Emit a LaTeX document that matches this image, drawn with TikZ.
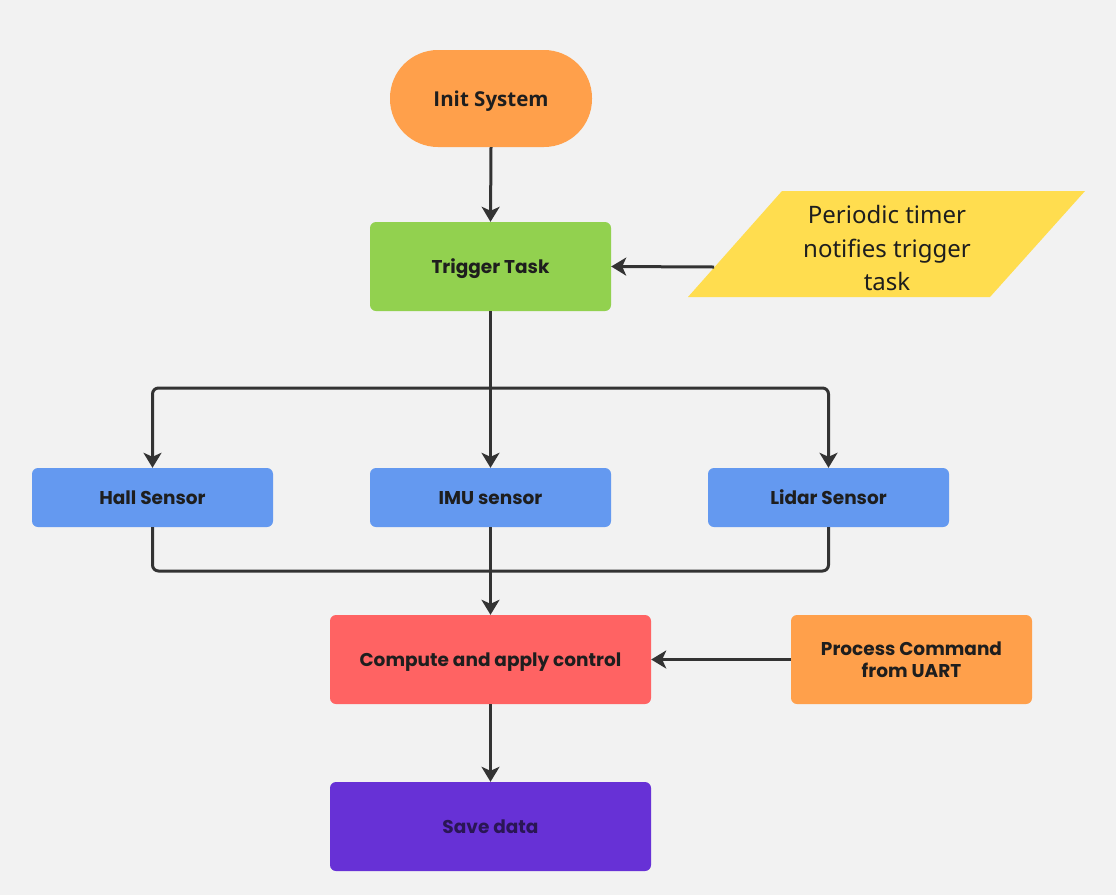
\documentclass[tikz,border=0pt]{standalone}
\usepackage{fontspec}
\setmainfont{Poppins}
\newfontfamily\notosans{Noto Sans}
\newfontfamily\opensans{Open Sans}
\usetikzlibrary{arrows.meta,calc}

\definecolor{bgcol}{HTML}{F2F2F2}
\definecolor{initcol}{HTML}{FFA04B}
\definecolor{trigcol}{HTML}{92D14F}
\definecolor{timercol}{HTML}{FFDD4F}
\definecolor{sensorcol}{HTML}{6499F0}
\definecolor{ctrlcol}{HTML}{FF6363}
\definecolor{uartcol}{HTML}{FFA04B}
\definecolor{savecol}{HTML}{6731D6}
\definecolor{linecol}{HTML}{333333}
\definecolor{txtcol}{HTML}{1E1E1E}
\definecolor{savetxt}{HTML}{2A1655}

\tikzset{
  box/.style={rectangle, rounded corners=6pt, inner sep=0pt, align=center,
    text depth=0pt, text=txtcol, font=\fontsize{18.5}{22}\selectfont\bfseries},
  wide/.style={box, minimum width=321pt, minimum height=89pt},
  medium/.style={box, minimum width=241pt, minimum height=89pt},
  flat/.style={box, minimum width=241pt, minimum height=59pt},
  conn/.style={draw=linecol, line width=3pt, rounded corners=6pt,
    -{Stealth[length=15pt,width=18pt,inset=4pt]}},
  plain/.style={draw=linecol, line width=3pt, rounded corners=6pt}
}

\begin{document}
\begin{tikzpicture}[x=1pt,y=-1pt]
  % canvas
  \fill[bgcol] (0,0) rectangle (1116,895);
  \useasboundingbox (0,0) rectangle (1116,895);

  % start terminal
  \node[box, fill=initcol, minimum width=202pt, minimum height=97pt,
        rounded corners=48pt, font=\opensans\bfseries\fontsize{20.5}{25}\selectfont]
        (init) at (491,98.5) {Init System};

  % trigger task and its timer input
  \node[medium, fill=trigcol] (trig) at (490.5,266.5) {Trigger Task};
  \fill[timercol] (688,297) -- (782,191) -- (1085,191) -- (990,297) -- cycle;
  \node[align=center, text=txtcol, font=\notosans\fontsize{24}{33.5}\selectfont]
        (timer) at (887,248) {Periodic timer\\notifies trigger\\task};
  \coordinate (timeredge) at (714,267);

  % sensors
  \node[flat, fill=sensorcol] (hall)  at (152.5,497.5) {Hall Sensor};
  \node[flat, fill=sensorcol] (imu)   at (490.5,497.5) {IMU sensor};
  \node[flat, fill=sensorcol] (lidar) at (828.5,497.5) {Lidar Sensor};

  % control and output
  \node[wide, fill=ctrlcol] (comp) at (490.5,659.5) {Compute and apply control};
  \node[medium, fill=uartcol] (uart) at (911.5,659.5) {Process Command\\from UART};
  \node[wide, fill=savecol, text=savetxt] (save) at (490.5,826.5) {Save data};

  % branch and merge points
  \coordinate (split) at (490.5,388);
  \coordinate (merge) at (490.5,571);

  % connectors
  \draw[conn] (init.south) -- (trig.north);
  \draw[conn] (timeredge) -- (trig.east);
  \draw[conn] (trig.south) -- (imu.north);
  \draw[conn] (split) -| (hall.north);
  \draw[conn] (split) -| (lidar.north);
  \draw[plain] (hall.south) |- (merge) -| (lidar.south);
  \draw[conn] (imu.south) -- (comp.north);
  \draw[conn] (uart.west) -- (comp.east);
  \draw[conn] (comp.south) -- (save.north);
\end{tikzpicture}
\end{document}
